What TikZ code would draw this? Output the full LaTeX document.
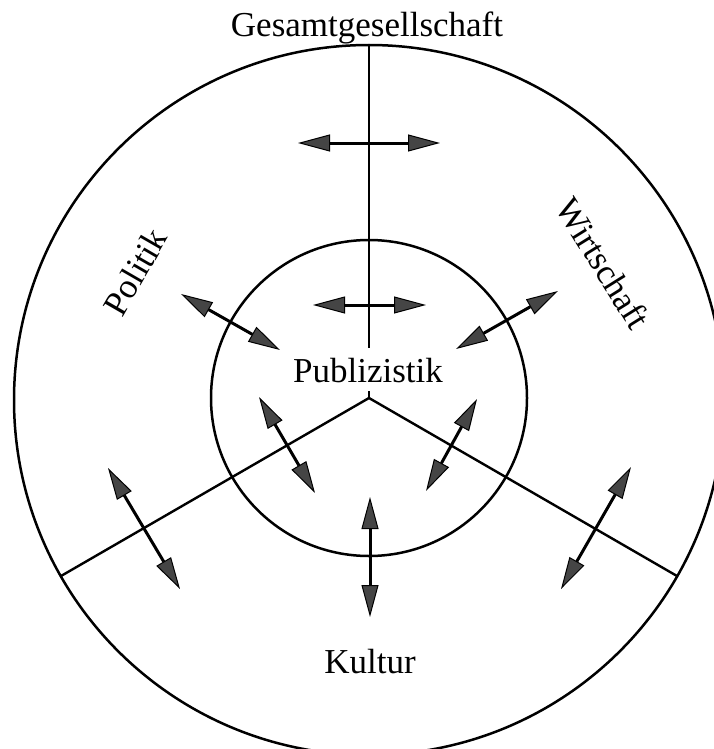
\documentclass[tikz,border=0pt]{standalone}
\usepackage{fontspec}
\setmainfont{Liberation Serif}
\usetikzlibrary{arrows.meta}
\definecolor{headgray}{HTML}{454545}
\tikzset{
  ring/.style={draw=black, line width=2.5pt},
  divider/.style={draw=black, line width=2.4pt},
  biarrow/.style={draw=black, line width=3pt,
    >={Triangle[length=32pt,width=17pt,fill=headgray,line width=1pt]}, <->},
  lbl/.style={font=\fontsize{35}{40}\selectfont, inner sep=0pt}
}
\begin{document}
\begin{tikzpicture}[x=1pt,y=-1pt]
\useasboundingbox (0,0) rectangle (714,749);
\clip (0,0) rectangle (714,749);
\fill[white] (0,0) rectangle (714,749);
% centre and circles
\coordinate (c) at (369,398);
\coordinate (co) at (369,400);
\draw[ring] (co) circle[radius=355pt];
\draw[ring] (c) circle[radius=158pt];
% dividers
\coordinate (ctop) at (369,45);
\coordinate (cmid) at (369,348);
\coordinate (cstub) at (369,391);
\coordinate (cl) at (61,576);
\coordinate (cr) at (677,576);
\draw[divider] (ctop) -- (cmid);
\draw[divider] (cl) -- (c) -- (cr);
\draw[line width=1.4pt] (c) -- (cstub);
% arrow end points
\coordinate (a1s) at (298,143); \coordinate (a1e) at (440,143);
\coordinate (a2s) at (313,305); \coordinate (a2e) at (426,305);
\coordinate (a3s) at (181,294); \coordinate (a3e) at (280,350);
\coordinate (a4s) at (558,291); \coordinate (a4e) at (456,349);
\coordinate (a5s) at (259,397); \coordinate (a5e) at (315,493);
\coordinate (a6s) at (477,399); \coordinate (a6e) at (426,491);
\coordinate (a7s) at (370,497); \coordinate (a7e) at (370,617);
\coordinate (a8s) at (108,468); \coordinate (a8e) at (180,589);
\coordinate (a9s) at (631,467); \coordinate (a9e) at (561,589);
\foreach \i in {1,...,9}{\draw[biarrow] (a\i s) -- (a\i e);}
% labels
\node[lbl, anchor=base] (ges) at (367,37) {Gesamtgesellschaft};
\node[lbl, anchor=base] (pub) at (368,382) {Publizistik};
\node[lbl, rotate=60] (pol) at (135,272) {Politik};
\node[lbl, rotate=-58] (wir) at (603,263) {Wirtschaft};
\node[lbl] (kul) at (370,662) {Kultur};
\end{tikzpicture}
\end{document}
